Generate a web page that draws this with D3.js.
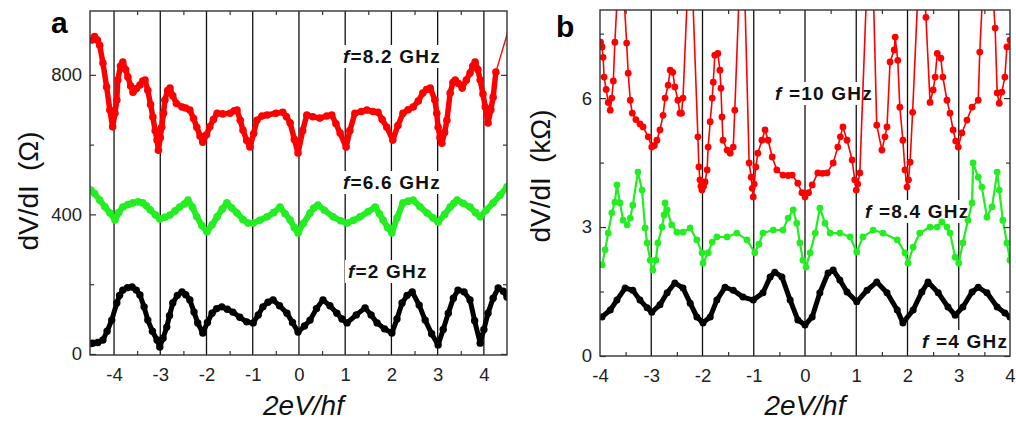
<!DOCTYPE html>
<html>
<head>
<meta charset="utf-8">
<script src="https://cdn.jsdelivr.net/npm/d3@7"></script>
<style>
body { margin: 0; background: #fff; }
svg { display: block; font-family: "Liberation Sans", Arial, sans-serif; }
</style>
</head>
<body>
<svg id="chart" width="1016" height="426"></svg>
<script>
// panel a: [2eV/hf, dV/dI (ohm)]
var a_82GHz = [[-4.48,900],[-4.42,910],[-4.36,900],[-4.31,885],[-4.24,834],[-4.16,765],[-4.09,699],[-4.03,651],[-3.98,690],[-3.94,728],[-3.92,785],[-3.86,825],[-3.81,837],[-3.75,815],[-3.7,794],[-3.64,768],[-3.59,750],[-3.52,760],[-3.44,771],[-3.38,782],[-3.33,785],[-3.27,756],[-3.21,715],[-3.16,679],[-3.11,640],[-3.07,613],[-3.04,584],[-3.0,620],[-2.97,650],[-2.93,690],[-2.9,728],[-2.84,755],[-2.79,762],[-2.73,740],[-2.65,718],[-2.53,708],[-2.45,705],[-2.36,699],[-2.28,675],[-2.21,650],[-2.14,625],[-2.08,607],[-2.0,628],[-1.93,651],[-1.85,672],[-1.77,690],[-1.65,688],[-1.49,690],[-1.4,697],[-1.34,699],[-1.27,670],[-1.21,641],[-1.13,612],[-1.06,593],[-0.98,632],[-0.91,670],[-0.8,682],[-0.69,685],[-0.5,690],[-0.35,693],[-0.27,680],[-0.19,662],[-0.1,615],[-0.02,576],[0.08,640],[0.17,685],[0.3,680],[0.45,676],[0.6,682],[0.71,685],[0.8,660],[0.89,633],[1.02,593],[1.1,640],[1.21,690],[1.35,695],[1.47,699],[1.6,695],[1.71,693],[1.8,672],[1.9,650],[2.03,613],[2.14,655],[2.25,690],[2.36,700],[2.47,708],[2.58,725],[2.68,748],[2.76,758],[2.84,762],[2.94,728],[2.98,690],[3.01,650],[3.05,620],[3.09,604],[3.15,635],[3.2,670],[3.27,748],[3.33,778],[3.38,785],[3.45,775],[3.53,762],[3.62,785],[3.7,805],[3.76,825],[3.81,837],[3.87,815],[3.92,785],[3.98,745],[4.03,708],[4.09,662],[4.15,700],[4.2,736],[4.26,808]];
// the last point lies above the frame; only its thin connecting line shows
var a_82GHzTail = [[4.26,808],[4.6,960]];
var a_66GHz = [[-4.5,470],[-4.42,460],[-4.31,441],[-4.2,422],[-4.09,404],[-3.98,384],[-3.9,405],[-3.81,421],[-3.7,428],[-3.59,433],[-3.48,436],[-3.38,433],[-3.3,425],[-3.22,413],[-3.1,398],[-3.01,387],[-2.9,392],[-2.79,398],[-2.68,410],[-2.58,421],[-2.48,430],[-2.4,441],[-2.3,420],[-2.21,393],[-2.1,368],[-1.99,350],[-1.88,370],[-1.77,393],[-1.66,415],[-1.56,433],[-1.45,418],[-1.34,404],[-1.21,385],[-1.1,375],[-0.99,375],[-0.85,383],[-0.69,393],[-0.55,405],[-0.41,421],[-0.3,402],[-0.19,384],[-0.1,362],[-0.02,347],[0.1,375],[0.24,404],[0.32,418],[0.41,427],[0.55,412],[0.74,393],[0.9,382],[1.04,375],[1.18,383],[1.32,393],[1.5,408],[1.65,421],[1.74,402],[1.82,384],[1.92,362],[2.01,347],[2.12,390],[2.25,433],[2.36,438],[2.47,441],[2.62,422],[2.77,404],[2.9,390],[3.01,378],[3.15,400],[3.27,421],[3.35,432],[3.42,441],[3.55,432],[3.7,421],[3.82,405],[3.92,393],[4.05,412],[4.2,433],[4.35,455],[4.5,479]];
var a_2GHz = [[-4.5,30],[-4.46,31],[-4.35,33],[-4.24,40],[-4.15,65],[-4.05,97],[-3.94,146],[-3.88,168],[-3.81,183],[-3.71,190],[-3.61,192],[-3.52,183],[-3.44,169],[-3.35,135],[-3.27,97],[-3.17,65],[-3.07,40],[-3.01,20],[-2.94,45],[-2.86,77],[-2.8,110],[-2.73,146],[-2.63,168],[-2.53,178],[-2.45,170],[-2.36,155],[-2.27,120],[-2.19,89],[-2.08,60],[-1.98,90],[-1.88,117],[-1.78,130],[-1.67,135],[-1.55,128],[-1.43,120],[-1.28,105],[-1.13,92],[-0.99,89],[-0.88,112],[-0.78,135],[-0.67,148],[-0.56,155],[-0.42,138],[-0.26,117],[-0.14,90],[-0.02,63],[0.12,80],[0.24,97],[0.38,130],[0.52,155],[0.67,138],[0.82,117],[0.93,100],[1.04,89],[1.24,112],[1.43,132],[1.56,112],[1.69,89],[1.85,72],[2.01,60],[2.12,100],[2.23,146],[2.34,168],[2.45,178],[2.6,140],[2.73,97],[2.87,58],[3.01,26],[3.12,70],[3.23,117],[3.34,160],[3.44,183],[3.57,178],[3.7,155],[3.8,95],[3.92,31],[4.0,70],[4.09,117],[4.2,160],[4.31,189],[4.42,180],[4.5,163]];

// panel b: [2eV/hf, dV/dI (kohm)]
var b_10GHz = [[-3.99,7.3],[-3.96,7.19],[-3.94,6.95],[-3.92,6.49],[-3.88,6.2],[-3.84,5.9],[-3.8,5.72],[-3.77,6.0],[-3.74,6.4],[-3.71,7.3],[-3.6,9.8],[-3.48,7.28],[-3.45,6.58],[-3.41,5.95],[-3.37,5.65],[-3.3,5.5],[-3.22,5.4],[-3.16,5.33],[-3.06,5.1],[-2.99,4.86],[-2.94,4.9],[-2.89,5.02],[-2.83,5.26],[-2.77,5.6],[-2.73,6.0],[-2.67,6.3],[-2.63,6.65],[-2.58,6.6],[-2.54,6.26],[-2.48,5.95],[-2.44,5.65],[-2.41,5.65],[-2.38,6.0],[-2.24,10],[-2.09,5.1],[-2.07,4.4],[-2.05,4.1],[-2.03,3.95],[-2.01,3.86],[-1.98,3.95],[-1.95,4.05],[-1.91,4.33],[-1.89,4.86],[-1.85,5.45],[-1.81,6.0],[-1.79,6.37],[-1.76,7.0],[-1.7,7.04],[-1.66,6.65],[-1.64,6.23],[-1.62,5.56],[-1.6,5.02],[-1.52,4.79],[-1.46,4.72],[-1.4,4.86],[-1.37,5.72],[-1.22,10.5],[-1.09,4.49],[-1.05,4.16],[-1.03,3.9],[-1.01,3.7],[-0.99,4.0],[-0.96,4.4],[-0.92,4.72],[-0.84,5.02],[-0.78,5.26],[-0.72,5.02],[-0.64,4.63],[-0.55,4.33],[-0.43,4.21],[-0.33,4.2],[-0.25,4.21],[-0.14,4.02],[-0.06,3.8],[0.0,3.7],[0.07,3.8],[0.14,3.98],[0.25,4.26],[0.34,4.25],[0.43,4.26],[0.55,4.49],[0.64,4.86],[0.69,5.1],[0.74,5.33],[0.82,5.02],[0.92,4.56],[0.97,4.1],[1.0,3.86],[1.03,4.0],[1.07,4.26],[1.28,11],[1.4,5.37],[1.5,4.79],[1.56,5.1],[1.6,5.33],[1.66,6.84],[1.74,7.12],[1.76,7.42],[1.81,6.88],[1.85,5.79],[1.91,5.02],[1.95,4.33],[1.99,3.93],[2.02,4.1],[2.05,4.51],[2.1,5.67],[2.26,10],[2.36,7.88],[2.44,5.9],[2.5,6.19],[2.54,6.49],[2.58,7.04],[2.65,6.93],[2.69,6.49],[2.77,5.95],[2.83,5.65],[2.89,5.26],[2.94,5.0],[2.99,4.86],[3.06,5.19],[3.16,5.49],[3.26,5.79],[3.38,5.95],[3.41,7.07],[3.55,10.5],[3.71,7.63],[3.75,6.12],[3.79,5.88],[3.84,6.14],[3.9,6.49],[3.94,7.19],[4.0,7.35]];
var b_84GHz = [[-3.96,2.12],[-3.9,2.47],[-3.84,2.86],[-3.77,3.33],[-3.71,3.58],[-3.67,3.98],[-3.61,3.56],[-3.55,3.16],[-3.47,3.05],[-3.41,3.21],[-3.36,3.51],[-3.26,4.28],[-3.18,3.86],[-3.12,2.98],[-3.08,2.63],[-3.02,2.23],[-2.97,2.0],[-2.91,2.23],[-2.87,2.63],[-2.79,3.0],[-2.75,3.28],[-2.73,3.56],[-2.69,3.4],[-2.6,3.05],[-2.5,2.88],[-2.38,2.88],[-2.24,2.98],[-2.11,2.7],[-2.01,2.4],[-1.99,2.16],[-1.89,2.4],[-1.81,2.65],[-1.72,2.77],[-1.52,2.77],[-1.33,2.86],[-1.13,2.7],[-0.98,2.4],[-0.9,2.6],[-0.82,2.86],[-0.62,2.93],[-0.43,2.93],[-0.33,3.21],[-0.23,3.4],[-0.16,3.09],[-0.1,2.63],[-0.04,2.23],[0.02,2.07],[0.1,2.4],[0.2,2.86],[0.29,3.44],[0.39,3.09],[0.49,2.86],[0.68,2.86],[0.88,2.77],[1.01,2.42],[1.13,2.77],[1.33,2.93],[1.52,2.86],[1.8,2.7],[1.95,2.4],[2.01,2.16],[2.11,2.53],[2.24,2.86],[2.44,3.0],[2.58,3.0],[2.67,3.12],[2.77,3.0],[2.83,2.86],[2.93,2.3],[3.0,2.16],[3.08,2.63],[3.18,3.16],[3.26,3.56],[3.28,4.49],[3.38,4.16],[3.45,3.93],[3.55,3.23],[3.65,3.47],[3.75,4.28],[3.79,3.86],[3.86,3.16],[3.94,2.63],[4.0,2.23]];
var b_4GHz = [[-3.96,0.91],[-3.8,1.07],[-3.67,1.3],[-3.51,1.58],[-3.36,1.53],[-3.22,1.3],[-3.08,1.12],[-2.99,1.02],[-2.83,1.19],[-2.69,1.47],[-2.54,1.7],[-2.38,1.58],[-2.24,1.23],[-2.11,0.91],[-1.99,0.77],[-1.85,0.91],[-1.72,1.3],[-1.56,1.6],[-1.4,1.53],[-1.21,1.37],[-1.01,1.3],[-0.82,1.47],[-0.68,1.84],[-0.59,1.95],[-0.45,1.84],[-0.29,1.3],[-0.14,0.84],[0.0,0.72],[0.14,0.91],[0.29,1.47],[0.45,1.93],[0.55,2.0],[0.68,1.77],[0.82,1.49],[1.01,1.26],[1.21,1.53],[1.4,1.72],[1.6,1.47],[1.8,1.07],[1.91,0.77],[2.11,1.07],[2.28,1.49],[2.4,1.72],[2.6,1.47],[2.79,1.14],[2.93,0.95],[3.08,1.14],[3.26,1.49],[3.38,1.6],[3.55,1.47],[3.75,1.14],[3.9,1.0],[4.0,0.91]];

var xTicksA = [-4, -3, -2, -1, 0, 1, 2, 3, 4];
var xTicksB = [-4, -3, -2, -1, 0, 1, 2, 3, 4];
var halfTicks = [-3.5, -2.5, -1.5, -0.5, 0.5, 1.5, 2.5, 3.5];
var gridA = [-4, -3, -2, -1, 0, 1, 2, 3, 4];
var gridB = [-3, -2, -1, 0, 1, 2, 3];
var yTicksA = [0, 400, 800];
var yMinorA = [200, 600];
var yTicksB = [0, 3, 6];
var yMinorB = [1.5, 4.5, 7.5];

var RED = '#ff0000', GREEN = '#22ee22', BLACK = '#000000';

var svg = d3.select('#chart');

function drawPanel(p)
{
    var x = d3.scaleLinear().domain(p.xDomain).range([p.left, p.right]);
    var y = d3.scaleLinear().domain(p.yDomain).range([p.bottom, p.top]);
    var g = svg.append('g');

    svg.append('clipPath').attr('id', 'clip-' + p.name)
        .append('rect')
            .attr('x', p.left).attr('y', p.top)
            .attr('width', p.right - p.left).attr('height', p.bottom - p.top);

    // vertical lines at integer 2eV/hf
    g.selectAll(null).data(p.grid).enter().append('line')
        .attr('x1', d => x(d)).attr('x2', d => x(d))
        .attr('y1', p.top).attr('y2', p.bottom)
        .attr('stroke', '#111').attr('stroke-width', 1.3);

    // frequency labels sit on white boxes that cut the lines
    p.series.forEach(function(s) {
        var lg = g.append('g');
        var t = lg.append('text')
            .attr('x', s.lx).attr('y', s.ly)
            .style('font-size', '19px').style('font-weight', 'bold')
            .style('letter-spacing', '1.2px').attr('fill', '#111');
        t.append('tspan').style('font-style', 'italic').text('f');
        t.append('tspan').text(s.label);
        var bb = t.node().getBBox();
        lg.insert('rect', 'text')
            .attr('x', bb.x - 3).attr('y', bb.y - 1)
            .attr('width', bb.width + 6).attr('height', bb.height + 2)
            .attr('fill', '#fff');
    });

    var line = d3.line().x(d => x(d[0])).y(d => y(d[1]));
    var dg = g.append('g').attr('clip-path', 'url(#clip-' + p.name + ')');
    p.series.forEach(function(s) {
        if (s.tail) {
            dg.append('path').datum(s.tail)
                .attr('d', line)
                .attr('fill', 'none').attr('stroke', s.color).attr('stroke-width', 1.3);
        }
        dg.append('path').datum(s.data)
            .attr('d', line)
            .attr('fill', 'none').attr('stroke', s.color)
            .attr('stroke-width', s.lw).attr('stroke-linejoin', 'round');
        dg.selectAll(null).data(s.data).enter().append('circle')
            .attr('cx', d => x(d[0])).attr('cy', d => y(d[1]))
            .attr('r', s.r).attr('fill', s.color);
    });

    // axes, ticks pointing inwards
    var fmt = d => String(d);
    var tidy = function(sel) {
        sel.select('.domain').remove();
        sel.selectAll('line').attr('stroke', '#333').attr('stroke-width', 1.2);
        sel.selectAll('text').attr('fill', '#222')
            .style('font-size', '18.5px').style('font-family', '"Liberation Sans", Arial, sans-serif');
    };
    g.append('g').attr('transform', 'translate(0,' + p.bottom + ')')
        .call(d3.axisBottom(x).tickValues(p.xTicks).tickSize(0).tickPadding(13).tickFormat(fmt)).call(tidy);
    g.append('g').attr('transform', 'translate(0,' + p.bottom + ')')
        .call(d3.axisBottom(x).tickValues(halfTicks).tickSize(-4).tickFormat('')).call(tidy);
    g.append('g').attr('transform', 'translate(0,' + p.top + ')')
        .call(d3.axisTop(x).tickValues(halfTicks).tickSize(-4).tickFormat('')).call(tidy);
    g.append('g').attr('transform', 'translate(' + p.left + ',0)')
        .call(d3.axisLeft(y).tickValues(p.yTicks).tickSize(-6).tickPadding(8).tickFormat(fmt)).call(tidy);
    g.append('g').attr('transform', 'translate(' + p.left + ',0)')
        .call(d3.axisLeft(y).tickValues(p.yMinor).tickSize(-4).tickFormat('')).call(tidy);
    g.append('g').attr('transform', 'translate(' + p.right + ',0)')
        .call(d3.axisRight(y).tickValues(p.yTicks).tickSize(-6).tickFormat('')).call(tidy);
    g.append('g').attr('transform', 'translate(' + p.right + ',0)')
        .call(d3.axisRight(y).tickValues(p.yMinor).tickSize(-4).tickFormat('')).call(tidy);

    g.append('rect')
        .attr('x', p.left).attr('y', p.top)
        .attr('width', p.right - p.left).attr('height', p.bottom - p.top)
        .attr('fill', 'none').attr('stroke', '#333').attr('stroke-width', 1.4);

    // titles
    g.append('text').attr('x', p.letterX).attr('y', p.letterY)
        .style('font-size', '30px').style('font-weight', 'bold').attr('fill', '#000')
        .text(p.name);

    var yt = g.append('text')
        .attr('transform', 'translate(' + p.yTitleX + ',' + ((p.top + p.bottom) / 2 + p.yTitleDy) + ') rotate(-90)')
        .attr('text-anchor', 'middle')
        .style('font-size', '28px').attr('fill', '#111');
    yt.append('tspan').text('dV/dI');
    yt.append('tspan').attr('dx', 14).text(p.yUnit);

    g.append('text')
        .attr('x', (p.left + p.right) / 2 + p.xTitleDx).attr('y', 415)
        .attr('text-anchor', 'middle')
        .style('font-size', '28px').style('font-style', 'italic').attr('fill', '#111')
        .text('2eV/hf');
}

drawPanel({
    name: 'a',
    left: 90, right: 507, top: 11, bottom: 355,
    xDomain: [-4.52, 4.5], yDomain: [-3, 983],
    xTicks: xTicksA, grid: gridA, yTicks: yTicksA, yMinor: yMinorA,
    letterX: 51, letterY: 33,
    yTitleX: 38, yTitleDy: 8, yUnit: '(\u03A9)', xTitleDx: 5,
    series: [
        {data: a_82GHz, tail: a_82GHzTail, color: RED, lw: 5.5, r: 3.8, label: '=8.2 GHz', lx: 343, ly: 63},
        {data: a_66GHz, color: GREEN, lw: 6, r: 3.8, label: '=6.6 GHz', lx: 343, ly: 189},
        {data: a_2GHz, color: BLACK, lw: 5, r: 3.7, label: '=2 GHz', lx: 348, ly: 278}
    ]
});

drawPanel({
    name: 'b',
    left: 600, right: 1010, top: 10, bottom: 356,
    xDomain: [-4, 4], yDomain: [0, 8.05],
    xTicks: xTicksB, grid: gridB, yTicks: yTicksB, yMinor: yMinorB,
    letterX: 556, letterY: 37,
    yTitleX: 550, yTitleDy: -7, yUnit: '(k\u03A9)', xTitleDx: 0,
    series: [
        {data: b_10GHz, color: RED, lw: 1.6, r: 3.4, label: ' =10 GHz', lx: 775, ly: 100},
        {data: b_84GHz, color: GREEN, lw: 2.2, r: 3.4, label: ' =8.4 GHz', lx: 865, ly: 218},
        {data: b_4GHz, color: BLACK, lw: 5, r: 3.5, label: ' =4 GHz', lx: 922, ly: 348}
    ]
});
</script>
</body>
</html>
